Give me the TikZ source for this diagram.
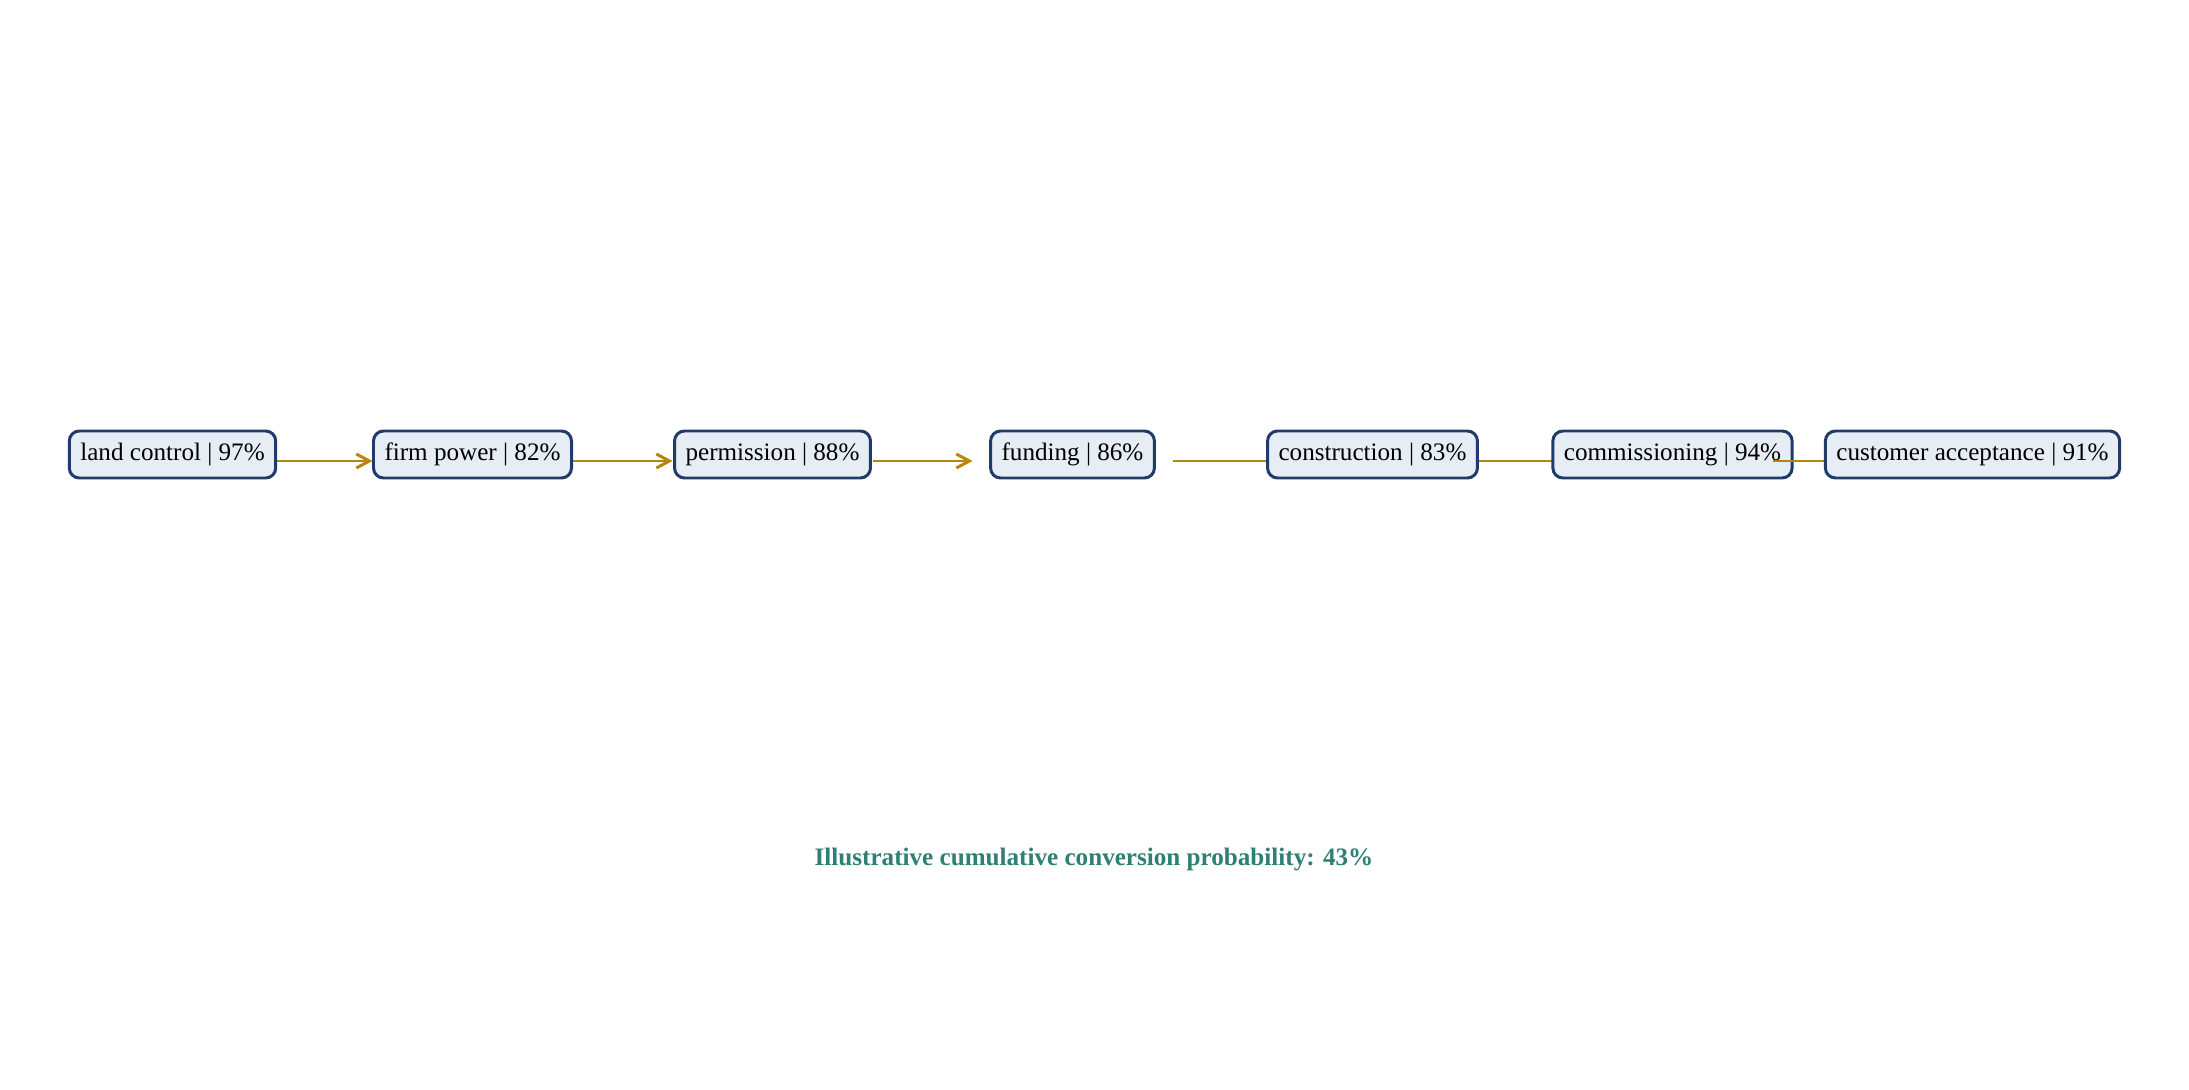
\documentclass[tikz,border=0pt]{standalone}
\usepackage{fontspec}
\setmainfont{Liberation Serif}
\usetikzlibrary{positioning,arrows.meta,backgrounds}
\pgfdeclarelayer{front}
\pgfsetlayers{background,main,front}
\definecolor{boxline}{HTML}{1F3B6A}
\definecolor{boxfill}{HTML}{E7EDF5}
\definecolor{flowline}{HTML}{B8860B}
\definecolor{sumtext}{HTML}{2E7F74}
\tikzset{
  stage/.style={rectangle,rounded corners=2mm,draw=boxline,fill=boxfill,line width=1.7pt,
    inner xsep=2.2mm,minimum height=9.4mm,font=\fontsize{14.3}{17}\selectfont},
  flow/.style={draw=flowline,line width=1.7pt,-{Straight Barb[length=2.6mm,width=2.8mm]}},
  node distance=6cm,
  on grid
}
\begin{document}
\begin{tikzpicture}
  \useasboundingbox (0,0) rectangle (43.78,21.78);

  \node [stage] (land) at (3.45,12.69) {land control | 97\%};
  \node [stage,right=of land] (power) {firm power | 82\%};
  \node [stage,right=of power] (permit) {permission | 88\%};
  \node [stage,right=of permit] (fund) {funding | 86\%};
  \node [stage,right=of fund] (build) {construction | 83\%};
  \node [stage,right=of build] (commis) {commissioning | 94\%};
  \begin{pgfonlayer}{front}
  \node [stage,right=of commis] (accept) {customer acceptance | 91\%};
  \end{pgfonlayer}

  % connectors sit below the boxes
  \begin{scope}[on background layer]
  \draw [flow] ([shift={(2,-0.13)}]land.center) -- ([shift={(-2,-0.13)}]power.center);
  \draw [flow] ([shift={(2,-0.13)}]power.center) -- ([shift={(-2,-0.13)}]permit.center);
  \draw [flow] ([shift={(2,-0.13)}]permit.center) -- ([shift={(-2,-0.13)}]fund.center);
  % heads of these end under the next box
  \draw [flow] ([shift={(2,-0.13)}]fund.center) -- ([shift={(0.4,-0.13)}]build.west);
  \draw [flow] ([shift={(2,-0.13)}]build.center) -- ([shift={(0.4,-0.13)}]commis.west);
  \end{scope}
  % this one runs over its own box
  \draw [flow] ([shift={(2,-0.13)}]commis.center) -- ([shift={(0.4,-0.13)}]accept.west);

  \node [font=\bfseries\fontsize{14.3}{17}\selectfont,text=sumtext] (total) at (21.88,4.6)
    {Illustrative cumulative conversion probability: 43\%};
\end{tikzpicture}
\end{document}
